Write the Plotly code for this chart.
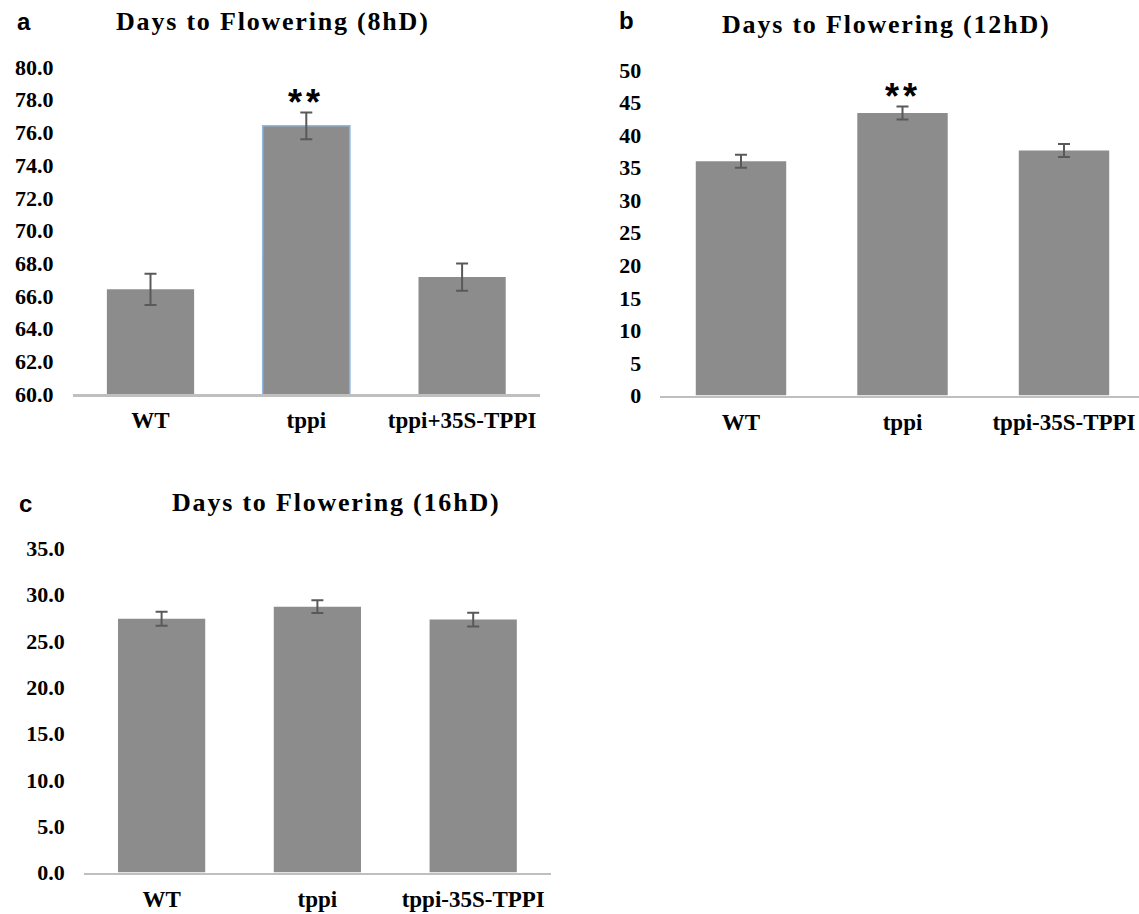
import plotly.graph_objects as go

W, H = 1139, 914

# ---- data ----
cats_a = ["WT", "tppi", "tppi+35S-TPPI"]
vals_a = [66.4, 76.4, 67.15]
err_a = [0.95, 0.82, 0.83]

cats_b = ["WT", "tppi", "tppi-35S-TPPI"]
vals_b = [36.0, 43.4, 37.65]
err_b = [1.0, 1.0, 1.0]

cats_c = ["WT", "tppi", "tppi-35S-TPPI"]
vals_c = [27.4, 28.7, 27.3]
err_c = [0.75, 0.68, 0.74]

ticks_a = [60 + 2 * i for i in range(11)]
ticks_b = [5 * i for i in range(11)]
ticks_c = [5 * i for i in range(8)]

titles = ["Days to Flowering (8hD)", "Days to Flowering (12hD)", "Days to Flowering (16hD)"]
panel_letters = ["a", "b", "c"]
signif = ["**", "**", ""]

BAR = "#8c8c8c"
ERR = "#595959"
AXLINE = "#bfbfbf"
SERIF = "Liberation Serif"
SANS = "Liberation Sans"


def px(x):
    return x / W


def py(y):
    return 1 - y / H


fig = go.Figure()

panels = [
    dict(cats=cats_a, vals=vals_a, err=err_a, ticks=ticks_a, fmt=".1f", yr=[60, 80],
         xd=[px(72.6), px(540)], yd=[py(394), py(67)], xr=[-0.5, 2.5],
         title_x=273, title_y=22, letter_x=24, letter_y=22,
         outline=["rgba(0,0,0,0)", "#8fb8e3", "rgba(0,0,0,0)"]),
    dict(cats=cats_b, vals=vals_b, err=err_b, ticks=ticks_b, fmt="d", yr=[0, 50],
         xd=[px(660.25), 1.0], yd=[py(395.5), py(70)], xr=[-0.5, -0.5 + (W - 660.25) / 161.5],
         title_x=886, title_y=24, letter_x=626, letter_y=21,
         outline=["rgba(0,0,0,0)"] * 3),
    dict(cats=cats_c, vals=vals_c, err=err_c, ticks=ticks_c, fmt=".1f", yr=[0, 35],
         xd=[px(83.7), px(551.1)], yd=[py(872.5), py(548.3)], xr=[-0.5, 2.5],
         title_x=335.7, title_y=502, letter_x=25, letter_y=503,
         outline=["rgba(0,0,0,0)"] * 3),
]

annotations = []
for i, p in enumerate(panels):
    n = "" if i == 0 else str(i + 1)
    xa, ya = "x" + n, "y" + n
    fig.add_trace(go.Bar(
        x=p["cats"], y=p["vals"], xaxis=xa, yaxis=ya, width=0.56,
        marker=dict(color=BAR, line=dict(color=p["outline"], width=[0, 1.5, 0] if i == 0 else 0)),
        error_y=dict(type="data", array=p["err"], color=ERR, thickness=2, width=6),
        showlegend=False, hoverinfo="skip",
    ))
    fig.layout["xaxis" + n] = dict(
        domain=p["xd"], anchor=ya, range=p["xr"], type="category", automargin=False,
        showline=True, linecolor=AXLINE, linewidth=2.5, showgrid=False, zeroline=False,
        ticks="", ticklabelstandoff=4,
        tickfont=dict(family=SERIF, size=23, color="black", weight="bold"),
    )
    fig.layout["yaxis" + n] = dict(
        domain=p["yd"], anchor=xa, range=p["yr"], tickvals=p["ticks"], automargin=False,
        ticktext=[format(t, p["fmt"]) for t in p["ticks"]],
        showline=False, showgrid=False, zeroline=False, ticks="", ticklabelstandoff=18,
        tickfont=dict(family=SERIF, size=22, color="black", weight="bold"),
    )
    annotations.append(dict(
        text='<span style="letter-spacing:1.8px">' + titles[i] + "</span>",
        xref="paper", yref="paper", x=px(p["title_x"]), y=py(p["title_y"]),
        xanchor="center", yanchor="middle", showarrow=False,
        font=dict(family=SERIF, size=26, color="black", weight="bold"),
    ))
    annotations.append(dict(
        text=panel_letters[i], xref="paper", yref="paper",
        x=px(p["letter_x"]), y=py(p["letter_y"]), xanchor="center", yanchor="middle",
        showarrow=False, font=dict(family=SANS, size=24, color="black", weight="bold"),
    ))
    if signif[i]:
        j = 1
        annotations.append(dict(
            text='<span style="letter-spacing:4px">' + signif[i] + "</span>",
            xref=xa, yref=ya, x=p["cats"][j], y=p["vals"][j] + p["err"][j],
            xanchor="center", yanchor="bottom", yshift=-13, showarrow=False,
            font=dict(family=SANS, size=36, color="black", weight="bold"),
        ))

fig.update_layout(
    template=None,
    width=W, height=H, margin=dict(l=0, r=0, t=0, b=0, autoexpand=False),
    paper_bgcolor="white", plot_bgcolor="white", annotations=annotations,
    bargap=0.44,
)

fig.write_html("out.html", config={"displayModeBar": False, "staticPlot": True},
               post_script="document.body.style.margin='0';")
